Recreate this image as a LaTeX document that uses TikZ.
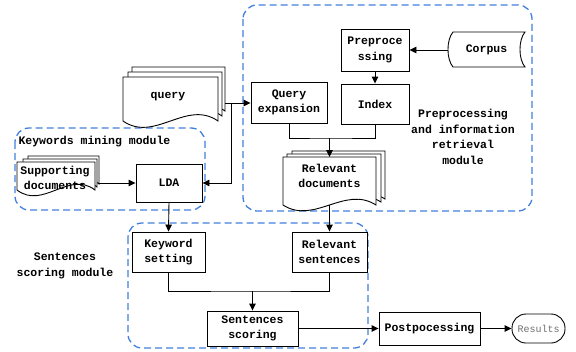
\documentclass[tikz,border=0pt]{standalone}
\usepackage{fontspec}
\setmonofont{Liberation Mono}
\usetikzlibrary{arrows.meta}
\definecolor{modblue}{RGB}{66,128,220}
\definecolor{resgray}{RGB}{110,110,110}
\newcommand{\mydoc}[5]{%
  \pgfmathsetmacro{\dw}{(#3-#1)/3}%
  \filldraw[docline] (#1,#2) -- (#3,#2) -- (#3,#4) .. controls ({#3-\dw},{#4-#5}) and ({#1+\dw},{#4+#5}) .. (#1,#4) -- cycle;}
\tikzset{
  lbl/.style={font=\fontsize{11.5}{15.5}\selectfont\ttfamily\bfseries, align=center},
  box/.style={lbl, draw, line width=0.9pt, fill=white, inner sep=1pt},
  docline/.style={draw, line width=0.9pt, fill=white},
  module/.style={draw=modblue, line width=1.3pt, dash pattern=on 7pt off 4pt, rounded corners=14pt},
  arr/.style={line width=0.9pt, -{Triangle[length=7pt,width=6.5pt]}},
  ln/.style={line width=0.9pt},
}
\begin{document}
\begin{tikzpicture}[x=1pt,y=-1pt]
\useasboundingbox (0,0) rectangle (576,351);
% modules
\draw[module] (15,128) rectangle (205,210);
\draw[module] (243,5) rectangle (532,211);
\draw[module] (128,223) rectangle (368,348);
% query stack
\mydoc{132}{67}{225}{111}{22}
\mydoc{128}{72}{222}{116}{22}
\mydoc{123}{77}{218}{121}{22}
\node[lbl] (query) at (168,97) {query};
\coordinate (qright) at (225,103);
\coordinate (qv) at (231,103);
% supporting docs
\mydoc{28}{156}{99}{184}{20}
\mydoc{23}{159}{97}{187}{20}
\mydoc{17}{162}{95}{190}{20}
\node[lbl] (supp) at (55,178) {Supporting\\documents};
\coordinate (suppe) at (99,183);
% relevant docs
\mydoc{292}{151}{385}{199}{20}
\mydoc{287}{154}{381}{202}{20}
\mydoc{283}{157}{376}{205}{20}
\node[lbl] (reldoc) at (329.5,176) {Relevant\\documents};
\coordinate (reldocs) at (329.5,205);
\coordinate (reldocn) at (329.5,157);
% corpus
\filldraw[docline] (453,32) -- (525,32) .. controls (518.3,40) and (518.3,59) .. (525,67) -- (453,67) .. controls (446.3,59) and (446.3,40) .. (453,32) -- cycle;
\node[lbl] (corpus) at (486.5,50) {Corpus};
\coordinate (corpusw) at (448,50);
% boxes
\node[box, minimum width=68pt, minimum height=42pt] (prep) at (375,50) {Preproce\\ssing};
\node[box, minimum width=68pt, minimum height=40pt] (index) at (375,104) {Index};
\node[box, minimum width=76pt, minimum height=41pt] (qexp) at (289,102.5) {Query\\expansion};
\node[box, minimum width=66pt, minimum height=38pt] (lda) at (169,183) {LDA};
\node[box, minimum width=73pt, minimum height=40pt] (kw) at (168.5,252) {Keyword\\setting};
\node[box, minimum width=75pt, minimum height=40pt] (rs) at (329.5,252) {Relevant\\sentences};
\node[box, minimum width=91pt, minimum height=35pt] (ss) at (252.5,328.5) {Sentences\\scoring};
\node[box, minimum width=101pt, minimum height=33pt] (post) at (429.5,328.5) {Postpocessing};
\node[draw, line width=0.9pt, rounded corners=14pt, minimum width=53pt, minimum height=29pt, inner sep=1pt, text=resgray, font=\fontsize{10}{12}\selectfont\ttfamily] (res) at (538.5,328.5) {Results};
% labels
\node[lbl, anchor=west] (kmm) at (15,142) {Keywords mining module};
\node[lbl] (pim) at (463,137) {Preprocessing\\and information\\retrieval\\module};
\node[lbl] (ssm) at (65,266) {Sentences\\scoring module};
% connectors
\draw[arr] (corpusw) -- (prep.east);
\draw[arr] (prep.south) -- (index.north);
\coordinate (j1) at (329.5,138);
\draw[ln] (qexp.south) |- (j1) -| (index.south);
\draw[arr] (j1) -- (reldocn);
\draw[arr] (qright) -- (qexp.west |- qright);
\draw[arr] (qv) |- (lda.east);
\draw[arr] (suppe) -- (lda.west);
\draw[arr] (lda.south) -- (kw.north);
\draw[arr] (reldocs) -- (rs.north);
\coordinate (j2) at (252.5,291);
\draw[ln] (kw.south) |- (j2) -| (rs.south);
\draw[arr] (j2) -- (ss.north);
\draw[arr] (ss.east) -- (post.west);
\draw[arr] (post.east) -- (res.west);
\end{tikzpicture}
\end{document}
